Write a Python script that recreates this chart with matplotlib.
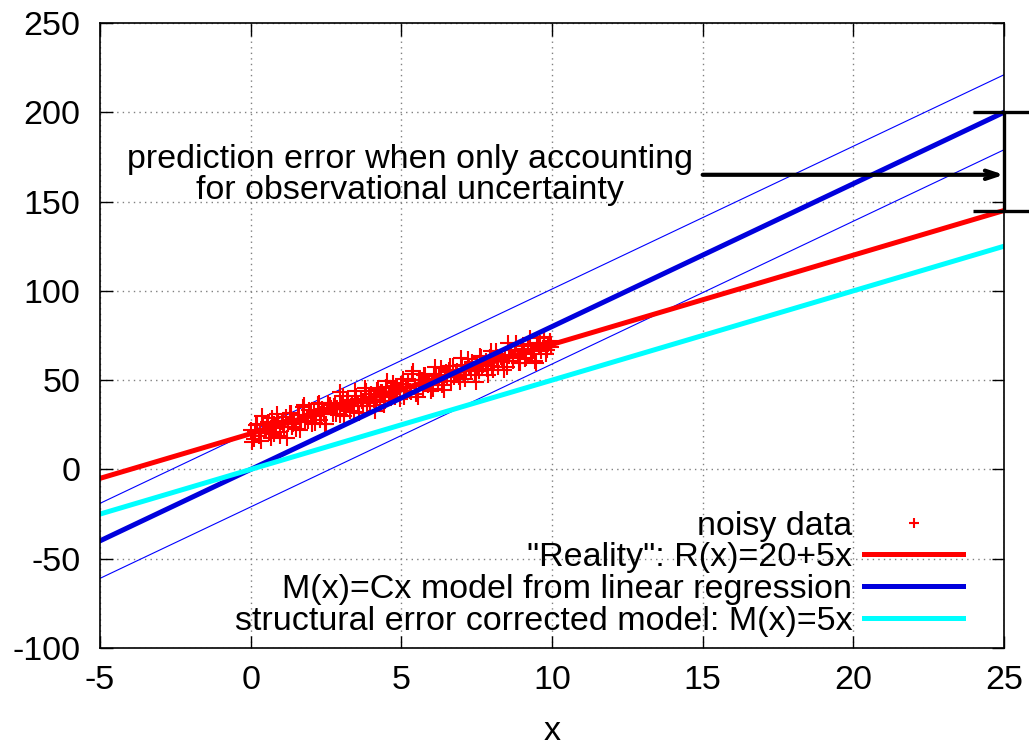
import matplotlib
matplotlib.use("Agg")
from matplotlib import pyplot as plt

plt.rcParams['font.family'] = ['Liberation Sans', 'DejaVu Sans']
plt.rcParams['axes.unicode_minus'] = False

noisy_x = [0.02, 0.10, 0.15, 0.21, 0.30, 0.34, 0.42, 0.50, 0.55, 0.61, 0.70, 0.76, 0.83, 0.90, 0.97,
           1.04, 1.10, 1.18, 1.25, 1.30, 1.37, 1.45, 1.52, 1.60, 1.66, 1.73, 1.80, 1.88, 1.95,
           2.02, 2.10, 2.16, 2.23, 2.30, 2.38, 2.45, 2.50, 2.58, 2.66, 2.72, 2.80, 2.87, 2.95,
           3.00, 3.08, 3.15, 3.22, 3.30, 3.36, 3.44, 3.50, 3.57, 3.65, 3.72, 3.80, 3.86, 3.93,
           4.00, 4.08, 4.15, 4.22, 4.30, 4.36, 4.43, 4.50, 4.58, 4.65, 4.72, 4.80, 4.86, 4.94,
           5.00, 5.08, 5.15, 5.22, 5.30, 5.36, 5.44, 5.50, 5.58, 5.65, 5.72, 5.80, 5.86, 5.93,
           6.00, 6.08, 6.15, 6.22, 6.30, 6.36, 6.44, 6.50, 6.58, 6.65, 6.72, 6.80, 6.86, 6.94,
           7.00, 7.08, 7.15, 7.22, 7.30, 7.36, 7.44, 7.50, 7.58, 7.65, 7.72, 7.80, 7.86, 7.94,
           8.00, 8.08, 8.15, 8.22, 8.30, 8.36, 8.44, 8.50, 8.58, 8.65, 8.72, 8.80, 8.86, 8.94,
           9.00, 9.08, 9.15, 9.22, 9.30, 9.36, 9.44, 9.50, 9.58, 9.65, 9.72, 9.80, 9.86, 9.93, 9.98,
           0.05, 0.18, 0.26, 0.38, 0.46, 0.58, 0.66, 0.79, 0.87, 0.99,
           1.07, 1.21, 1.33, 1.41, 1.56, 1.63, 1.76, 1.91, 1.99,
           2.13, 2.27, 2.34, 2.48, 2.62, 2.76, 2.84, 2.98,
           3.11, 3.19, 3.33, 3.47, 3.61, 3.69, 3.83, 3.97,
           4.11, 4.19, 4.33, 4.47, 4.54, 4.69, 4.83, 4.97,
           5.04, 5.19, 5.33, 5.40, 5.54, 5.68, 5.76, 5.90,
           6.04, 6.12, 6.26, 6.40, 6.47, 6.62, 6.76, 6.90, 6.97,
           7.12, 7.26, 7.33, 7.47, 7.61, 7.69, 7.83, 7.97,
           8.04, 8.19, 8.33, 8.40, 8.54, 8.69, 8.76, 8.90,
           9.04, 9.12, 9.26, 9.40, 9.47, 9.61, 9.75, 9.83, 9.95]
noisy_y = [22.2, 17.1, 21.6, 25.5, 20.3, 16.1, 25.1, 22.1, 24.7, 20.4, 28.7, 19.7, 24.5, 27.3, 18.6,
           26.6, 23.7, 29.6, 25.4, 31.4, 23.7, 27.9, 22.6, 30.4, 26.8, 34.8, 26.8, 29.5, 33.1,
           25.5, 32.2, 30.1, 36.7, 27.7, 33.9, 31.2, 25.7, 37.1, 34.2, 31.1, 37.1, 34.2, 30.5,
           36.5, 41.2, 33.9, 38.7, 33.0, 37.2, 31.9, 41.4, 37.3, 39.5, 35.7, 45.4, 35.3, 40.4,
           42.2, 39.0, 37.7, 45.7, 40.7, 43.6, 36.3, 45.9, 40.9, 43.5, 48.6, 40.4, 45.4, 43.7,
           47.9, 40.6, 46.3, 49.7, 44.1, 53.5, 46.9, 42.4, 50.2, 49.9, 45.3, 53.1, 47.6, 49.7,
           44.0, 53.6, 52.1, 49.0, 56.8, 47.4, 53.0, 52.0, 55.6, 49.4, 58.0, 52.7, 55.3, 49.2,
           58.5, 52.8, 56.4, 62.1, 54.9, 59.3, 53.0, 57.8, 54.9, 63.1, 58.5, 60.9, 52.8, 62.7,
           57.7, 61.3, 66.4, 57.4, 62.9, 60.6, 64.3, 57.6, 63.3, 67.1, 60.8, 71.0, 63.7, 59.5,
           67.6, 66.6, 62.4, 70.4, 64.7, 66.9, 61.0, 70.8, 69.4, 66.3, 73.7, 64.5, 70.0, 71.7, 68.4,
           15.5, 24.9, 18.7, 30.1, 21.4, 26.5, 17.5, 25.2, 31.3, 21.1,
           25.9, 17.7, 31.4, 25.5, 30.7, 22.1, 36.2, 27.3, 30.8,
           26.0, 37.3, 31.3, 25.4, 36.2, 35.7, 31.0, 43.5,
           30.2, 38.2, 35.7, 43.7, 31.5, 38.5, 43.7, 37.1,
           32.6, 44.7, 43.1, 38.3, 49.8, 42.2, 46.8, 39.2,
           50.4, 45.8, 43.2, 55.0, 40.8, 50.1, 52.7, 47.4,
           45.3, 57.2, 51.9, 44.4, 54.8, 58.0, 51.9, 51.5, 62.6,
           50.5, 57.3, 60.1, 49.2, 63.7, 57.8, 56.5, 66.1,
           55.8, 63.0, 62.0, 55.6, 71.0, 62.4, 66.8, 59.5,
           69.3, 62.0, 73.5, 66.5, 59.6, 70.9, 74.2, 66.8, 71.4]

# straight lines, end points at x = -5 and x = 25
line_x = [-5, 25]
reality_y = [-5, 145]        # R(x)=20+5x
regression_y = [-40, 200]    # M(x)=Cx
band_upper_y = [-19, 221]
band_lower_y = [-61, 179]
corrected_y = [-25, 125]     # M(x)=5x

labels = ['noisy data', '"Reality": R(x)=20+5x',
          'M(x)=Cx model from linear regression',
          'structural error corrected model: M(x)=5x']

fs = 24.5

fig = plt.figure(figsize=(10.29, 7.45), dpi=100)
ax = fig.add_axes([100/1029, 97/745, 904/1029, 625/745])

ax.plot(line_x, band_upper_y, color='blue', lw=0.8)
ax.plot(line_x, band_lower_y, color='blue', lw=0.8)
h_noisy, = ax.plot(noisy_x, noisy_y, ls='none', marker='+', color='red', ms=12, mew=1.5)
h_real, = ax.plot(line_x, reality_y, color='red', lw=3.6)
h_reg, = ax.plot(line_x, regression_y, color='#0000dd', lw=3.6)
h_corr, = ax.plot(line_x, corrected_y, color='cyan', lw=3.6)

# error bar at x=25 between reality and regression model
eb = ax.errorbar([25], [172.5], yerr=[27.5], fmt='none', ecolor='black',
                 elinewidth=2.4, capsize=22, capthick=2.4)
for a in eb.get_children():
    a.set_clip_on(False)

ax.annotate('', xy=(25, 165), xytext=(15, 165),
            arrowprops=dict(arrowstyle='->,head_length=0.9,head_width=0.3',
                            lw=3, color='black', shrinkA=0, shrinkB=0))
ax.text(5.3, 165, 'prediction error when only accounting\nfor observational uncertainty',
        ha='center', va='center', multialignment='center', fontsize=fs, linespacing=1.0)

ax.set_xlim(-5, 25)
ax.set_ylim(-100, 250)
ax.set_xticks([-5, 0, 5, 10, 15, 20, 25])
ax.set_yticks([-100, -50, 0, 50, 100, 150, 200, 250])
ax.tick_params(direction='in', length=9, width=1, top=True, right=True, labelsize=fs)
ax.tick_params(axis='y', pad=14)
ax.tick_params(axis='x', pad=12)
ax.grid(True, color='gray', linestyle=(0, (1, 3)), lw=1)
ax.set_axisbelow(True)
for s in ax.spines.values():
    s.set_linewidth(1.2)

ax.set_xlabel('x', fontsize=fs)
ax.xaxis.set_label_coords(0.5, -0.108)

ax.legend([h_noisy, h_real, h_reg, h_corr], labels, loc='lower right',
          bbox_to_anchor=(0.9546, 0.018), frameon=False, markerfirst=False,
          fontsize=fs, labelspacing=0.02, handlelength=2.9, handletextpad=0.35,
          borderpad=0, borderaxespad=0, markerscale=0.55)

fig.savefig('out.png', dpi=100)
